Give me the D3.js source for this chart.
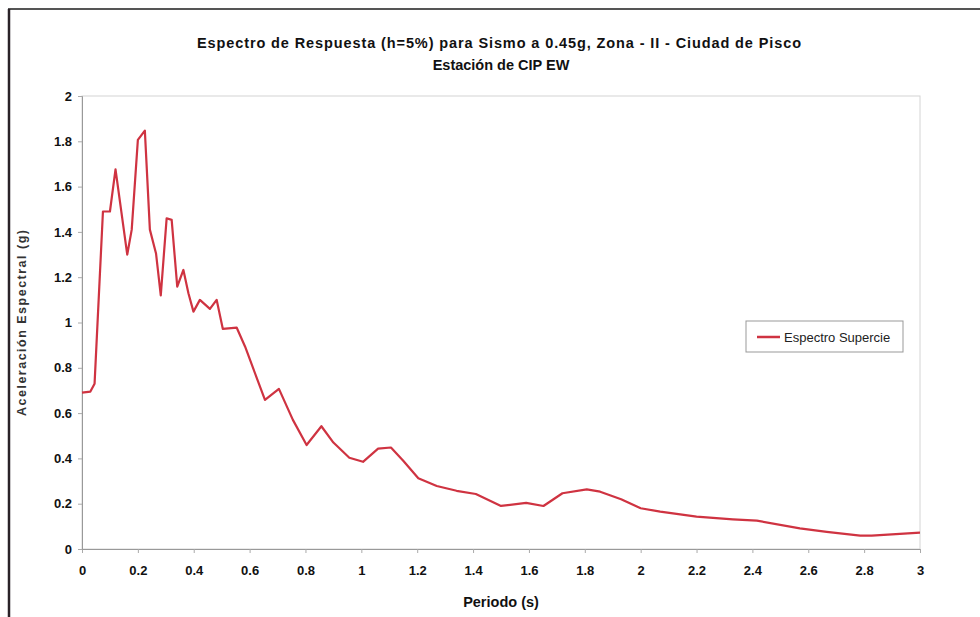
<!DOCTYPE html>
<html>
<head>
<meta charset="utf-8">
<script src="https://cdn.jsdelivr.net/npm/d3@7"></script>
<style>
  body { margin: 0; background: #fff; }
  svg { font-family: "Liberation Sans", Arial, sans-serif; }
</style>
</head>
<body>
<script>
// periodo (s) y aceleracion espectral (g)
var periodos = [0, 0.03, 0.045, 0.075, 0.10, 0.12, 0.162, 0.178, 0.20, 0.225, 0.243, 0.265, 0.282,
	0.303, 0.321, 0.341, 0.363, 0.381, 0.399, 0.422, 0.458, 0.482, 0.504, 0.554, 0.584, 0.655,
	0.705, 0.755, 0.804, 0.857, 0.90, 0.957, 1.006, 1.06, 1.106, 1.15, 1.204, 1.27, 1.341, 1.41,
	1.50, 1.59, 1.652, 1.72, 1.807, 1.855, 1.93, 2.0, 2.07, 2.2, 2.33, 2.416, 2.57, 2.666, 2.786,
	2.827, 3.0];
var aceleracion = [0.69, 0.695, 0.73, 1.49, 1.49, 1.676, 1.30, 1.41, 1.806, 1.847, 1.41, 1.305, 1.12,
	1.46, 1.453, 1.158, 1.232, 1.129, 1.048, 1.10, 1.06, 1.10, 0.972, 0.977, 0.893, 0.658,
	0.707, 0.57, 0.459, 0.542, 0.47, 0.403, 0.385, 0.443, 0.448, 0.39, 0.312, 0.278, 0.257, 0.243,
	0.19, 0.204, 0.19, 0.246, 0.263, 0.253, 0.22, 0.18, 0.165, 0.143, 0.131, 0.125, 0.091, 0.076, 0.059,
	0.059, 0.072];
var xTicks = [0, 0.2, 0.4, 0.6, 0.8, 1, 1.2, 1.4, 1.6, 1.8, 2, 2.2, 2.4, 2.6, 2.8, 3];
var yTicks = [0, 0.2, 0.4, 0.6, 0.8, 1, 1.2, 1.4, 1.6, 1.8, 2];
var titulo1 = "Espectro de Respuesta (h=5%) para Sismo a 0.45g, Zona - II  - Ciudad de Pisco";
var titulo2 = "Estación de CIP EW";
var serieNombre = "Espectro Supercie";

var W = 980, H = 617;
var plot = { left: 82, right: 920, top: 96, bottom: 549 };
var lineColor = "#cf3341";

var svg = d3.select("body").append("svg")
	.attr("width", W)
	.attr("height", H);

// borde exterior del grafico (escaneado)
svg.append("line")
	.attr("x1", 8).attr("y1", 9).attr("x2", W).attr("y2", 9)
	.attr("stroke", "#555").attr("stroke-width", 2);
svg.append("line")
	.attr("x1", 9).attr("y1", 9).attr("x2", 9).attr("y2", H)
	.attr("stroke", "#2a2228").attr("stroke-width", 2.5);

var x = d3.scaleLinear().domain([0, 3]).range([plot.left, plot.right]);
var y = d3.scaleLinear().domain([0, 2]).range([plot.bottom, plot.top]);

// area del trazado
svg.append("rect")
	.attr("x", plot.left).attr("y", plot.top)
	.attr("width", plot.right - plot.left).attr("height", plot.bottom - plot.top)
	.attr("fill", "none").attr("stroke", "#d4d4d4").attr("stroke-width", 1);

var fmt = function (d) { return String(+d.toFixed(1)); };
var xAxis = svg.append("g")
	.attr("transform", "translate(0," + plot.bottom + ")")
	.call(d3.axisBottom(x).tickValues(xTicks).tickSize(4).tickPadding(13).tickFormat(fmt));
var yAxis = svg.append("g")
	.attr("transform", "translate(" + plot.left + ",0)")
	.call(d3.axisLeft(y).tickValues(yTicks).tickSize(4).tickPadding(6).tickFormat(fmt));

[xAxis, yAxis].forEach(function (a) {
	a.select(".domain").attr("stroke", "#999");
	a.selectAll(".tick line").attr("stroke", "#aaa");
	a.selectAll(".tick text")
		.attr("fill", "#111")
		.style("font-size", "13px")
		.style("font-weight", "bold")
		.style("font-family", "'Liberation Sans', Arial, sans-serif");
});

var datos = periodos.map(function (t, i) { return { t: t, a: aceleracion[i] }; });
var linea = d3.line()
	.x(function (d) { return x(d.t); })
	.y(function (d) { return y(d.a); });

svg.append("path")
	.datum(datos)
	.attr("d", linea)
	.attr("fill", "none")
	.attr("stroke", lineColor)
	.attr("stroke-width", 2.2)
	.attr("stroke-linejoin", "round");

// titulos
svg.append("text")
	.attr("x", 499).attr("y", 48)
	.attr("text-anchor", "middle")
	.attr("textLength", 604)
	.attr("lengthAdjust", "spacing")
	.style("font-size", "14.5px").style("font-weight", "bold")
	.attr("fill", "#111")
	.text(titulo1);
svg.append("text")
	.attr("x", 501).attr("y", 70)
	.attr("text-anchor", "middle")
	.style("font-size", "14.5px").style("font-weight", "bold")
	.attr("fill", "#111")
	.text(titulo2);

svg.append("text")
	.attr("x", 501).attr("y", 607)
	.attr("text-anchor", "middle")
	.style("font-size", "14.5px").style("font-weight", "bold")
	.attr("fill", "#111")
	.text("Periodo (s)");

svg.append("text")
	.attr("transform", "translate(26," + 323 + ") rotate(-90)")
	.attr("text-anchor", "middle")
	.attr("textLength", 186)
	.attr("lengthAdjust", "spacing")
	.style("font-size", "12.5px").style("font-weight", "bold")
	.attr("fill", "#333")
	.text("Aceleración Espectral (g)");

// leyenda
var leg = svg.append("g").attr("transform", "translate(746,321)");
leg.append("rect")
	.attr("width", 157).attr("height", 31)
	.attr("fill", "#fff").attr("stroke", "#999").attr("stroke-width", 1);
leg.append("line")
	.attr("x1", 11).attr("x2", 34).attr("y1", 16).attr("y2", 16)
	.attr("stroke", lineColor).attr("stroke-width", 2.5);
leg.append("text")
	.attr("x", 38).attr("y", 20.5)
	.style("font-size", "13px")
	.attr("fill", "#222")
	.text(serieNombre);
</script>
</body>
</html>
